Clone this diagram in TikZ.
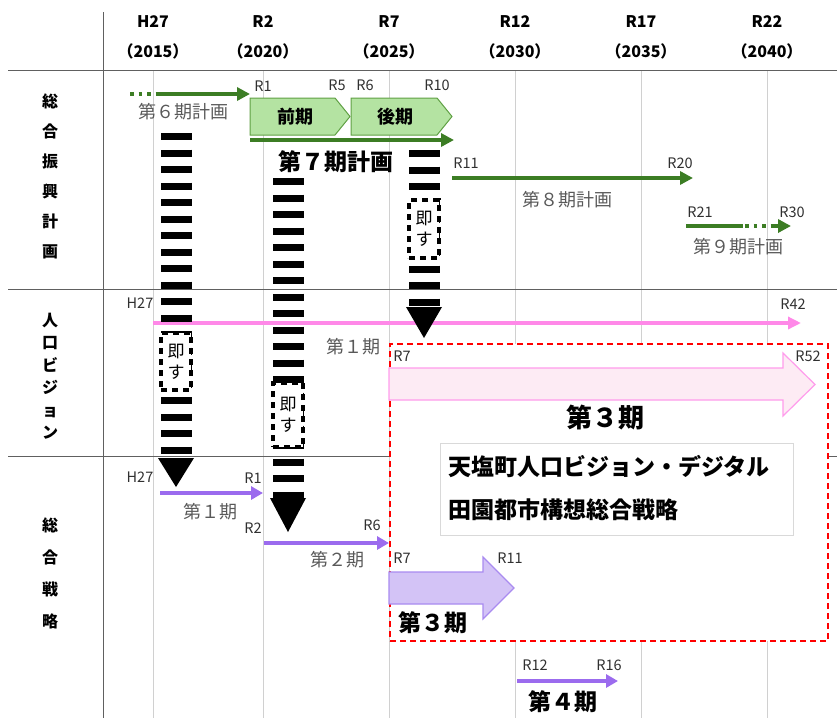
\documentclass[tikz,border=0pt]{standalone}
\usepackage{fontspec}
\setmainfont{Noto Sans CJK JP}
\usetikzlibrary{arrows.meta}
\definecolor{gridgray}{HTML}{D0D0D0}
\definecolor{linegray}{HTML}{606060}
\definecolor{txtgray}{HTML}{595959}
\definecolor{lbldark}{HTML}{303030}
\definecolor{myGreen}{HTML}{3C7D24}
\definecolor{chevFill}{HTML}{B4E3A2}
\definecolor{chevEdge}{HTML}{5FA043}
\definecolor{pinkLine}{HTML}{FF88E8}
\definecolor{pinkFill}{HTML}{FDEBF4}
\definecolor{pinkEdge}{HTML}{FF9CEC}
\definecolor{purpLine}{HTML}{9B6BEE}
\definecolor{purpFill}{HTML}{D3C3F6}
\definecolor{purpEdge}{HTML}{A98BF0}
\definecolor{boxGray}{HTML}{D9D9D9}
\tikzset{
  gridline/.style={draw=gridgray, line width=0.8pt},
  mainline/.style={draw=linegray, line width=1pt},
  hdr/.style={font=\fontsize{16}{18}\selectfont\bfseries, text=black, inner sep=0pt},
  rowlbl/.style={font=\fontsize{16}{30}\selectfont\bfseries, align=center, inner sep=0pt},
  tag/.style={font=\fontsize{14.5}{16}\selectfont, text=lbldark, inner sep=0pt},
  graylbl/.style={font=\fontsize{18}{20}\selectfont, text=txtgray, inner sep=0pt},
  boldlbl/.style={font=\fontsize{23}{25}\selectfont\bfseries, text=black, inner sep=0pt},
  greenarr/.style={draw=myGreen, line width=3.5pt, -{Triangle[length=13pt,width=13pt]}},
  greendot/.style={draw=myGreen, line width=3.5pt, dash pattern=on 3.5pt off 5pt},
  pinkarr/.style={draw=pinkLine, line width=4pt, -{Triangle[length=13pt,width=12pt]}},
  purparr/.style={draw=purpLine, line width=4.5pt, -{Triangle[length=12pt,width=13pt]}},
  blackdash/.style={draw=black, line width=31pt, dash pattern=on 7pt off 9.5pt},
  sokusu/.style={draw=black, fill=white, line width=3.5pt, dash pattern=on 6pt off 5pt, minimum width=30pt, inner sep=0pt, align=center, font=\fontsize{17}{21}\selectfont},
}
\begin{document}
\begin{tikzpicture}[x=1pt,y=-1pt]
\useasboundingbox (0,0) rectangle (837,718);
% vertical grid lines
\foreach \n/\x in {g1/153,g2/263,g3/389,g4/515,g5/641,g6/767} {
  \coordinate (\n-t) at (\x,70);
  \coordinate (\n-b) at (\x,718);
  \draw[gridline] (\n-t) -- (\n-b);
}
% frame lines
\coordinate (v-t) at (103,12); \coordinate (v-b) at (103,718);
\draw[mainline] (v-t) -- (v-b);
\foreach \n/\y in {h1/70,h2/289,h3/456} {
  \coordinate (\n-l) at (8,\y);
  \coordinate (\n-r) at (837,\y);
  \draw[mainline] (\n-l) -- (\n-r);
}
% header
\node[hdr] (y1) at (153,22) {H27};
\node[hdr] (y2) at (263,22) {R2};
\node[hdr] (y3) at (389,22) {R7};
\node[hdr] (y4) at (515,22) {R12};
\node[hdr] (y5) at (641,22) {R17};
\node[hdr] (y6) at (767,22) {R22};
\node[hdr] (z1) at (153,51) {（2015）};
\node[hdr] (z2) at (263,51) {（2020）};
\node[hdr] (z3) at (389,51) {（2025）};
\node[hdr] (z4) at (515,51) {（2030）};
\node[hdr] (z5) at (641,51) {（2035）};
\node[hdr] (z6) at (767,51) {（2040）};
% row labels
\node[rowlbl] (row1) at (50,176) {総\\合\\振\\興\\計\\画};
\node[rowlbl, font=\fontsize{16}{22.5}\selectfont\bfseries] (row2) at (50,376) {人\\口\\ビ\\ジ\\ョ\\ン};
\node[rowlbl, font=\fontsize{16}{32}\selectfont\bfseries] (row3) at (50,573) {総\\合\\戦\\略};
% red dashed box
\node[draw=red, fill=white, line width=2pt, dash pattern=on 6pt off 4pt, minimum width=438pt, minimum height=297pt, anchor=north west, inner sep=0pt] (redbox) at (389,343) {};
% ---------- pink line (人口ビジョン), under the black arrows
\coordinate (pk1) at (153,323); \coordinate (pk2) at (801,323);
\draw[pinkarr] (pk1) -- (pk2);
\node[tag] (tH27a) at (140,303) {H27};
\node[tag] (tR42) at (793,304) {R42};
\node[graylbl] (q1) at (353,347) {第１期};
% ---------- green (総合振興計画)
\coordinate (g6a) at (130,94); \coordinate (g6b) at (156,94);
\coordinate (g6c) at (157,94); \coordinate (g6d) at (250,94);
\draw[greendot] (g6a) -- (g6b);
\draw[greenarr] (g6c) -- (g6d);
\node[tag] (tR1a) at (263,86) {R1};
\node[graylbl] (p6) at (183,112) {第６期計画};
\draw[draw=chevEdge, fill=chevFill, line width=1pt] (250,98) -- (335,98) -- (350,116.5) -- (335,135) -- (250,135) -- cycle;
\draw[draw=chevEdge, fill=chevFill, line width=1pt] (351,98) -- (437,98) -- (452,116.5) -- (437,135) -- (351,135) -- cycle;
\node[font=\fontsize{18}{20}\selectfont\bfseries, inner sep=0pt] (zenki) at (295,117) {前期};
\node[font=\fontsize{18}{20}\selectfont\bfseries, inner sep=0pt] (kouki) at (395,117) {後期};
\node[tag] (tR5) at (337,85) {R5};
\node[tag] (tR6a) at (365,85) {R6};
\node[tag] (tR10) at (437,85) {R10};
\coordinate (g7a) at (250,140); \coordinate (g7b) at (454,140);
\draw[greenarr] (g7a) -- (g7b);
\node[boldlbl] (p7) at (336,162) {第７期計画};
\coordinate (g8a) at (452,178); \coordinate (g8b) at (693,178);
\draw[greenarr] (g8a) -- (g8b);
\node[tag] (tR11a) at (466,163) {R11};
\node[tag] (tR20) at (680,163) {R20};
\node[graylbl] (p8) at (567,200) {第８期計画};
\coordinate (g9a) at (686,226); \coordinate (g9b) at (743,226);
\coordinate (g9c) at (745,226); \coordinate (g9d) at (791,226);
\draw[draw=myGreen, line width=3.5pt] (g9a) -- (g9b);
\draw[greendot] (g9c) -- ++(28,0) coordinate (g9e);
\draw[draw=myGreen, line width=3.5pt, -{Triangle[length=13pt,width=13pt]}] (g9e) -- (g9d);
\node[tag] (tR21) at (700,212) {R21};
\node[tag] (tR30) at (792,212) {R30};
\node[graylbl] (p9) at (738,247) {第９期計画};
% ---------- black dashed arrows (即す)
\coordinate (b1s) at (176,133); \coordinate (b1h) at (176,458); \coordinate (b1e) at (176,487);
\draw[blackdash] (b1s) -- (b1h);
\fill[black] (b1e) -- ++(-18,-29) -- ++(36,0) -- cycle;
\node[sokusu, minimum height=57pt] (s1) at (176,361.5) {即\\す};
\coordinate (b2s) at (288,178); \coordinate (b2h) at (288,498); \coordinate (b2e) at (288,532);
\draw[blackdash] (b2s) -- (b2h);
\fill[black] (b2e) -- ++(-18,-34) -- ++(36,0) -- cycle;
\node[sokusu, minimum height=64pt] (s2) at (288,415) {即\\す};
\coordinate (b3s) at (424,150); \coordinate (b3h) at (424,307); \coordinate (b3e) at (424,338);
\draw[blackdash] (b3s) -- (b3h);
\fill[black] (b3e) -- ++(-18,-31) -- ++(36,0) -- cycle;
\node[sokusu, minimum height=58pt] (s3) at (424,229) {即\\す};
% ---------- pink big arrow
\draw[draw=pinkEdge, fill=pinkFill, line width=1.2pt] (389,368) -- (783,368) -- (783,353) -- (815,384.5) -- (783,416) -- (783,400) -- (389,400) -- cycle;
\node[tag] (tR7a) at (402,356) {R7};
\node[tag] (tR52) at (808,356) {R52};
\node[font=\fontsize{26}{28}\selectfont\bfseries, inner sep=0pt] (q3) at (605,418) {第３期};
% text box
\node[draw=boxGray, fill=white, line width=1pt, minimum width=353pt, minimum height=92pt, anchor=north west, inner sep=0pt] (tbox) at (440,443) {};
\node[font=\fontsize{23}{25}\selectfont\bfseries, anchor=west, inner sep=0pt] (tl1) at (448,467) {天塩町人口ビジョン・デジタル};
\node[font=\fontsize{23}{25}\selectfont\bfseries, anchor=west, inner sep=0pt] (tl2) at (448,510) {田園都市構想総合戦略};
% ---------- purple (総合戦略)
\coordinate (u1a) at (160,493); \coordinate (u1b) at (263,493);
\draw[purparr] (u1a) -- (u1b);
\node[tag] (tH27b) at (140,477) {H27};
\node[tag] (tR1b) at (253,478) {R1};
\node[graylbl] (r1) at (210,512) {第１期};
\coordinate (u2a) at (264,543); \coordinate (u2b) at (389,543);
\draw[purparr] (u2a) -- (u2b);
\node[tag] (tR2) at (253,528) {R2};
\node[tag] (tR6b) at (372,525) {R6};
\node[graylbl] (r2) at (337,560) {第２期};
\draw[draw=purpEdge, fill=purpFill, line width=1.2pt] (389,572) -- (483,572) -- (483,557) -- (514,588) -- (483,619) -- (483,604) -- (389,604) -- cycle;
\node[tag] (tR7b) at (402,558) {R7};
\node[tag] (tR11b) at (510,558) {R11};
\node[boldlbl] (r3) at (433,623) {第３期};
\coordinate (u4a) at (517,681); \coordinate (u4b) at (618,681);
\draw[purparr] (u4a) -- (u4b);
\node[tag] (tR12) at (535,665) {R12};
\node[tag] (tR16) at (609,665) {R16};
\node[boldlbl] (r4) at (563,702) {第４期};
\end{tikzpicture}
\end{document}
